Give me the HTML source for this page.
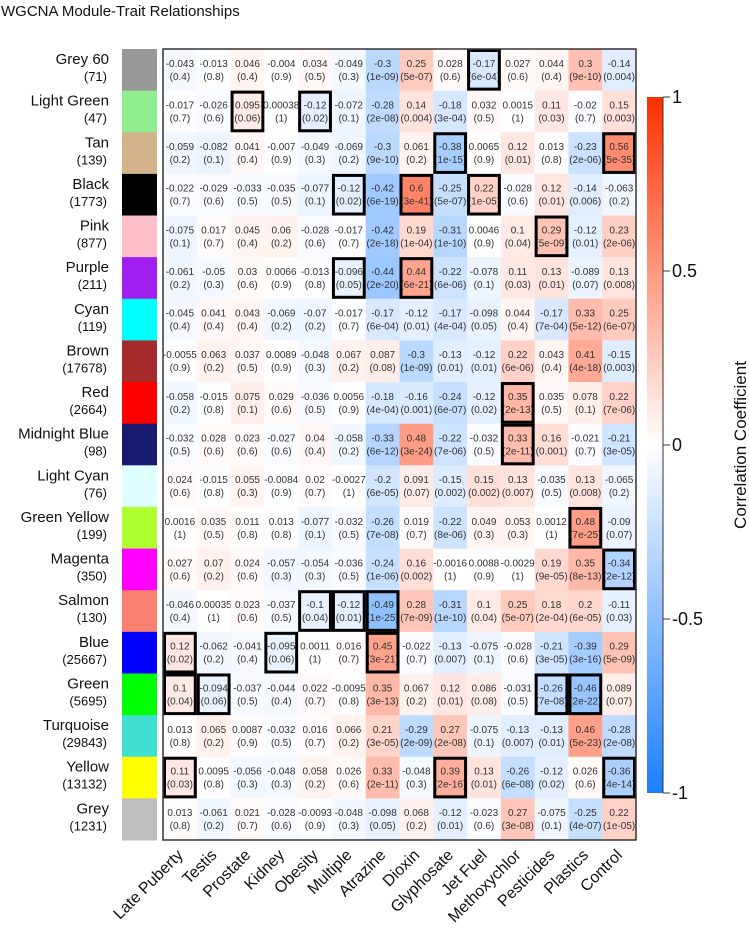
<!DOCTYPE html>
<html><head><meta charset="utf-8">
<style>
html,body{margin:0;padding:0;background:#fff;}
svg{display:block;font-family:"Liberation Sans",sans-serif;}
</style></head>
<body>
<svg id="chart" width="749" height="944" viewBox="0 0 749 944">
<defs>
<linearGradient id="cbgrad" x1="0" y1="0" x2="0" y2="1">
<stop offset="0" stop-color="#ff3000"/>
<stop offset="0.5" stop-color="#ffffff"/>
<stop offset="1" stop-color="#1a7fff"/>
</linearGradient>
</defs>
<text x="1" y="16" font-size="15" fill="#111">WGCNA Module-Trait Relationships</text>
<g id="cells"></g>
<g id="boxes"></g>
<rect x="163" y="49" width="473" height="791" fill="none" stroke="#333" stroke-width="1.5"/>
<g id="rowlabels"></g>
<g id="collabels"></g>
<g id="colorbar"></g>
</svg>
<script>
const modules = ["Grey 60","Light Green","Tan","Black","Pink","Purple","Cyan","Brown","Red","Midnight Blue","Light Cyan","Green Yellow","Magenta","Salmon","Blue","Green","Turquoise","Yellow","Grey"];
const moduleSizes = [71,47,139,1773,877,211,119,17678,2664,98,76,199,350,130,25667,5695,29843,13132,1231];
const moduleColors = ["#999999","#90EE90","#D2B48C","#000000","#FFC0CB","#A020F0","#00FFFF","#A52A2A","#FF0000","#191970","#E0FFFF","#ADFF2F","#FF00FF","#FA8072","#0000FF","#00FF00","#40E0D0","#FFFF00","#BEBEBE"];
const traits = ["Late Puberty","Testis","Prostate","Kidney","Obesity","Multiple","Atrazine","Dioxin","Glyphosate","Jet Fuel","Methoxychlor","Pesticides","Plastics","Control"];
const corr = [
[-0.043,-0.013,0.046,-0.004,0.034,-0.049,-0.3,0.25,0.028,-0.17,0.027,0.044,0.3,-0.14],
[-0.017,-0.026,0.095,0.00038,-0.12,-0.072,-0.28,0.14,-0.18,0.032,0.0015,0.11,-0.02,0.15],
[-0.059,-0.082,0.041,-0.007,-0.049,-0.069,-0.3,0.061,-0.38,0.0065,0.12,0.013,-0.23,0.56],
[-0.022,-0.029,-0.033,-0.035,-0.077,-0.12,-0.42,0.6,-0.25,0.22,-0.028,0.12,-0.14,-0.063],
[-0.075,0.017,0.045,0.06,-0.028,-0.017,-0.42,0.19,-0.31,0.0046,0.1,0.29,-0.12,0.23],
[-0.061,-0.05,0.03,0.0066,-0.013,-0.096,-0.44,0.44,-0.22,-0.078,0.11,0.13,-0.089,0.13],
[-0.045,0.041,0.043,-0.069,-0.07,-0.017,-0.17,-0.12,-0.17,-0.098,0.044,-0.17,0.33,0.25],
[-0.0055,0.063,0.037,0.0089,-0.048,0.067,0.087,-0.3,-0.13,-0.12,0.22,0.043,0.41,-0.15],
[-0.058,-0.015,0.075,0.029,-0.036,0.0056,-0.18,-0.16,-0.24,-0.12,0.35,0.035,0.078,0.22],
[-0.032,0.028,0.023,-0.027,0.04,-0.058,-0.33,0.48,-0.22,-0.032,0.33,0.16,-0.021,-0.21],
[0.024,-0.015,0.055,-0.0084,0.02,-0.0027,-0.2,0.091,-0.15,0.15,0.13,-0.035,0.13,-0.065],
[0.0016,0.035,0.011,0.013,-0.077,-0.032,-0.26,0.019,-0.22,0.049,0.053,0.0012,0.48,-0.09],
[0.027,0.07,0.024,-0.057,-0.054,-0.036,-0.24,0.16,-0.0016,0.0088,-0.0029,0.19,0.35,-0.34],
[-0.046,0.00035,0.023,-0.037,-0.1,-0.12,-0.49,0.28,-0.31,0.1,0.25,0.18,0.2,-0.11],
[0.12,-0.062,-0.041,-0.095,0.0011,0.016,0.45,-0.022,-0.13,-0.075,-0.028,-0.21,-0.39,0.29],
[0.1,-0.094,-0.037,-0.044,0.022,-0.0095,0.35,0.067,0.12,0.086,-0.031,-0.26,-0.46,0.089],
[0.013,0.065,0.0087,-0.032,0.016,0.066,0.21,-0.29,0.27,-0.075,-0.13,-0.13,0.46,-0.28],
[0.11,0.0095,-0.056,-0.048,0.058,0.026,0.33,-0.048,0.39,0.13,-0.26,-0.12,0.026,-0.36],
[0.013,-0.061,0.021,-0.028,-0.0093,-0.048,-0.098,0.068,-0.12,-0.023,0.27,-0.075,-0.25,0.22]
];
const pvals = [
["0.4","0.8","0.4","0.9","0.5","0.3","1e-09","5e-07","0.6","6e-04","0.6","0.4","9e-10","0.004"],
["0.7","0.6","0.06","1","0.02","0.1","2e-08","0.004","3e-04","0.5","1","0.03","0.7","0.003"],
["0.2","0.1","0.4","0.9","0.3","0.2","9e-10","0.2","1e-15","0.9","0.01","0.8","2e-06","5e-35"],
["0.7","0.6","0.5","0.5","0.1","0.02","6e-19","3e-41","5e-07","1e-05","0.6","0.01","0.006","0.2"],
["0.1","0.7","0.4","0.2","0.6","0.7","2e-18","1e-04","1e-10","0.9","0.04","5e-09","0.01","2e-06"],
["0.2","0.3","0.6","0.9","0.8","0.05","2e-20","6e-21","6e-06","0.1","0.03","0.01","0.07","0.008"],
["0.4","0.4","0.4","0.2","0.2","0.7","6e-04","0.01","4e-04","0.05","0.4","7e-04","5e-12","6e-07"],
["0.9","0.2","0.5","0.9","0.3","0.2","0.08","1e-09","0.01","0.01","6e-06","0.4","4e-18","0.003"],
["0.2","0.8","0.1","0.6","0.5","0.9","4e-04","0.001","6e-07","0.02","2e-13","0.5","0.1","7e-06"],
["0.5","0.6","0.6","0.6","0.4","0.2","6e-12","3e-24","7e-06","0.5","2e-11","0.001","0.7","3e-05"],
["0.6","0.8","0.3","0.9","0.7","1","6e-05","0.07","0.002","0.002","0.007","0.5","0.008","0.2"],
["1","0.5","0.8","0.8","0.1","0.5","7e-08","0.7","8e-06","0.3","0.3","1","7e-25","0.07"],
["0.6","0.2","0.6","0.3","0.3","0.5","1e-06","0.002","1","0.9","1","9e-05","8e-13","2e-12"],
["0.4","1","0.6","0.5","0.04","0.01","1e-25","7e-09","1e-10","0.04","5e-07","2e-04","6e-05","0.03"],
["0.02","0.2","0.4","0.06","1","0.7","3e-21","0.7","0.007","0.1","0.6","3e-05","3e-16","5e-09"],
["0.04","0.06","0.5","0.4","0.7","0.8","3e-13","0.2","0.01","0.08","0.5","7e-08","2e-22","0.07"],
["0.8","0.2","0.9","0.5","0.7","0.2","3e-05","2e-09","2e-08","0.1","0.007","0.01","5e-23","2e-08"],
["0.03","0.8","0.3","0.3","0.2","0.6","2e-11","0.3","2e-16","0.01","6e-08","0.02","0.6","4e-14"],
["0.8","0.2","0.7","0.6","0.9","0.3","0.05","0.2","0.01","0.6","3e-08","0.1","4e-07","1e-05"]
];
const highlightRows = [0,1,1,2,2,3,3,3,4,5,5,8,9,11,12,13,13,13,14,14,14,15,15,15,15,17,17,17];
const highlightCols = [9,2,4,8,13,5,7,9,11,5,7,10,10,12,13,4,5,6,0,3,6,0,1,11,12,0,8,13];
const cbTicks = [1,0.5,0,-0.5,-1];

const NS = "http://www.w3.org/2000/svg";
const X0 = 163, Y0 = 49, CW = 473/14, RH = 791/19;
const xPos = c => X0 + c*CW;
const yPos = r => Y0 + r*RH;
const CB_TOP = 97, CB_BOT = 793;
const cbY = v => CB_TOP + (1 - v)/2*(CB_BOT - CB_TOP);
function mk(tag, attrs, parent){const e=document.createElementNS(NS,tag);for(const k in attrs)e.setAttribute(k,attrs[k]);parent.appendChild(e);return e;}
function colorFor(v){
  const t = Math.min(1, Math.abs(v));
  let r,g,b;
  if (v >= 0){ r=255; g=255-t*(255-48); b=255-t*255; }
  else { r=255-t*(255-26); g=255-t*(255-127); b=255; }
  return `rgb(${Math.round(r)},${Math.round(g)},${Math.round(b)})`;
}
const cells = document.getElementById('cells');
for (let r=0;r<modules.length;r++){
  for (let c=0;c<traits.length;c++){
    const v = corr[r][c];
    const rect = mk('rect',{x:xPos(c),y:yPos(r),width:CW+0.5,height:RH+0.5,fill:colorFor(v)},cells);
    
    
    const cx = xPos(c)+CW/2, cy = yPos(r)+RH/2;
    const t1 = mk('text',{x:cx,y:cy-3,'font-size':10,'text-anchor':'middle',fill:'#333'},cells);
    t1.textContent = String(v);
    
    
    const t2 = mk('text',{x:cx,y:cy+10,'font-size':10,'text-anchor':'middle',fill:'#333'},cells);
    t2.textContent = '('+pvals[r][c]+')';
    
    
  }
}
const boxes = document.getElementById('boxes');
for (let i=0;i<highlightRows.length;i++){
  const b = mk('rect',{x:xPos(highlightCols[i])+1.5,y:yPos(highlightRows[i])+1.5,width:CW-3,height:RH-3,fill:'none',stroke:'#000','stroke-width':3},boxes);
  
  
}
const rl = document.getElementById('rowlabels');
for (let r=0;r<modules.length;r++){
  const sw = mk('rect',{x:122,y:yPos(r),width:35,height:RH+0.5,fill:moduleColors[r]},rl);
  
  
  const n = mk('text',{x:109,y:yPos(r)+15,'font-size':15,'text-anchor':'end',fill:'#111'},rl);
  n.textContent = modules[r];
  
  
  const s = mk('text',{x:107,y:yPos(r)+32,'font-size':13,'text-anchor':'end',fill:'#111'},rl);
  s.textContent = '('+moduleSizes[r]+')';
  
  
}
const cl = document.getElementById('collabels');
for (let c=0;c<traits.length;c++){
  const x = xPos(c)+CW/2+4, y = 856;
  const t = mk('text',{x:x,y:y,'font-size':16,'text-anchor':'end',fill:'#111',transform:`rotate(-45 ${x} ${y})`},cl);
  t.textContent = traits[c];
  
  
}
const cb = document.getElementById('colorbar');
const bar = mk('rect',{x:647,y:CB_TOP,width:16,height:CB_BOT-CB_TOP,fill:'url(#cbgrad)'},cb);


mk('line',{x1:663,y1:CB_TOP,x2:663,y2:CB_BOT,stroke:'#333','stroke-width':1},cb);
for (const v of cbTicks){
  const y = cbY(v);
  mk('line',{x1:663,y1:y,x2:670,y2:y,stroke:'#333','stroke-width':1},cb);
  const t = mk('text',{x:672,y:y+6,'font-size':18,fill:'#111'},cb);
  t.textContent = String(v);
  
  
}
const ct = mk('text',{x:746,y:445,'font-size':17,'text-anchor':'middle',fill:'#111',transform:'rotate(-90 746 445)'},cb);
ct.textContent = 'Correlation Coefficient';


</script>
</body></html>
